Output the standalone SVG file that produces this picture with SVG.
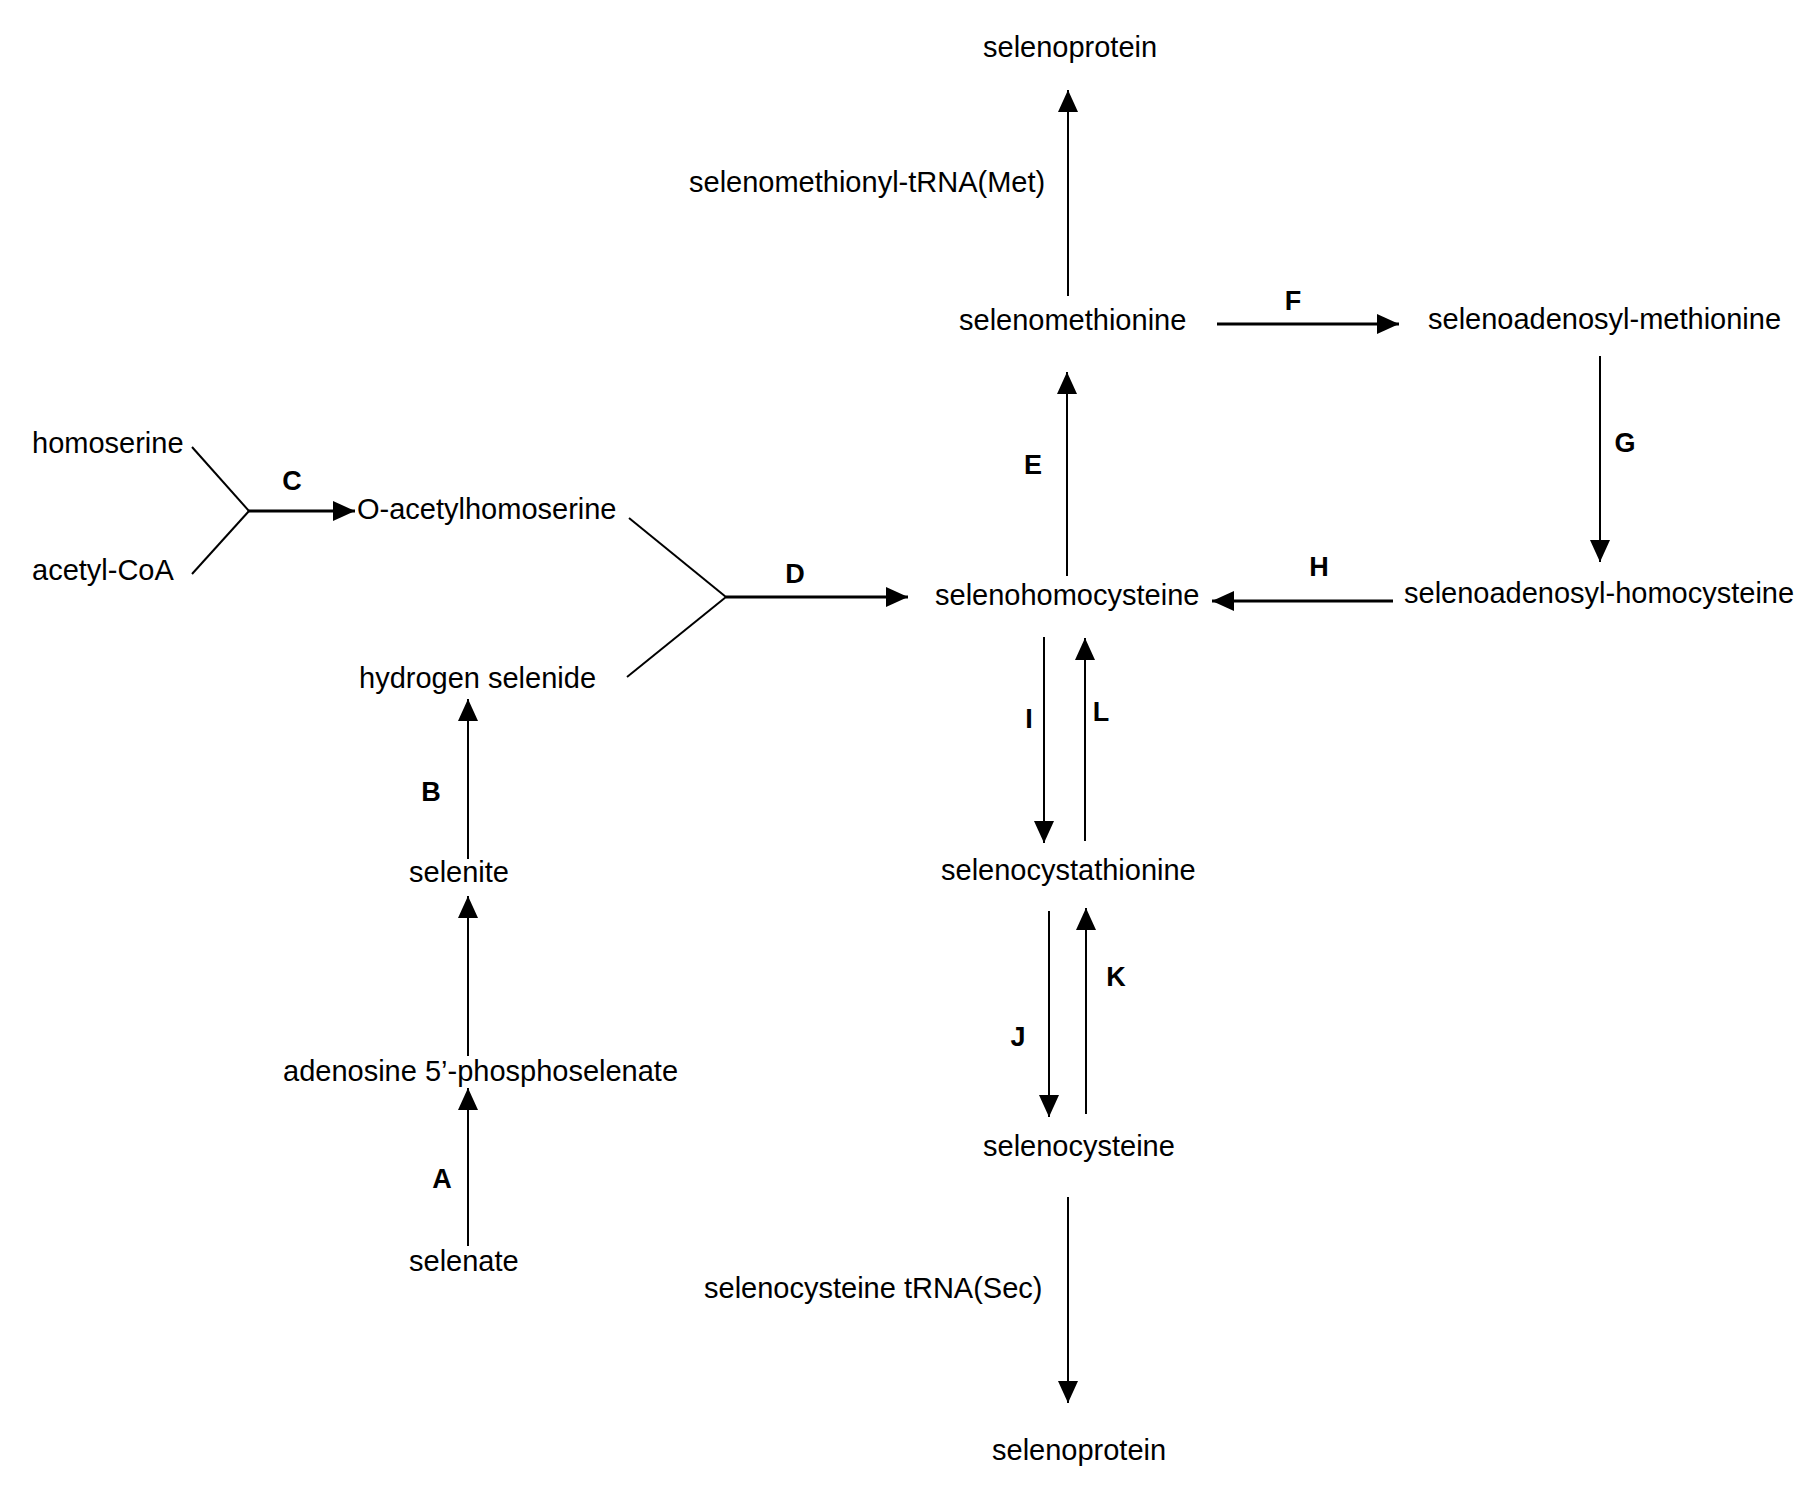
<svg xmlns="http://www.w3.org/2000/svg" width="1807" height="1493" viewBox="0 0 1807 1493">
<style>
text{font-family:"Liberation Sans",Arial,Helvetica,sans-serif;fill:#000}
.n{font-size:29px}
.l{font-size:27px;font-weight:bold;text-anchor:middle}
line{stroke:#000;stroke-width:2;fill:none}
.h{stroke-width:3}
.a{marker-end:url(#ah)}
</style>
<defs>
<marker id="ah" markerUnits="userSpaceOnUse" markerWidth="22" markerHeight="20" refX="22" refY="10" orient="auto" viewBox="0 0 22 20">
<path d="M0,0 L22,10 L0,20 z" fill="#000"/>
</marker>
</defs>
<rect width="1807" height="1493" fill="#fff"/>
<g id="connectors">
<line class="a" x1="1068" y1="296" x2="1068" y2="90"/>
<line class="a h" x1="1217" y1="324" x2="1399" y2="324"/>
<line class="a" x1="1600" y1="356" x2="1600" y2="562"/>
<line class="a" x1="1067" y1="576" x2="1067" y2="372"/>
<line class="a h" x1="1393" y1="601" x2="1212" y2="601"/>
<line x1="629" y1="518" x2="726" y2="597"/>
<line x1="627" y1="677" x2="726" y2="597"/>
<line class="a h" x1="726" y1="597" x2="908" y2="597"/>
<line x1="192" y1="447" x2="249" y2="511"/>
<line x1="192" y1="574" x2="249" y2="511"/>
<line class="a h" x1="249" y1="511" x2="355" y2="511"/>
<line class="a" x1="468" y1="859" x2="468" y2="699"/>
<line class="a" x1="468" y1="1056" x2="468" y2="896"/>
<line class="a" x1="468" y1="1246" x2="468" y2="1088"/>
<line class="a" x1="1044" y1="637" x2="1044" y2="843"/>
<line class="a" x1="1085" y1="841" x2="1085" y2="638"/>
<line class="a" x1="1049" y1="911" x2="1049" y2="1117"/>
<line class="a" x1="1086" y1="1114" x2="1086" y2="908"/>
<line class="a" x1="1068" y1="1197" x2="1068" y2="1403"/>
<text class="l" x="292" y="490">C</text>
<text class="l" x="795" y="583">D</text>
<text class="l" x="1033" y="474">E</text>
<text class="l" x="1293" y="310">F</text>
<text class="l" x="1625" y="452">G</text>
<text class="l" x="1319" y="576">H</text>
<text class="l" x="1029" y="728">I</text>
<text class="l" x="1101" y="721">L</text>
<text class="l" x="1116" y="986">K</text>
<text class="l" x="1018" y="1046">J</text>
<text class="l" x="431" y="801">B</text>
<text class="l" x="442" y="1188">A</text>
</g>
<g id="selenoprotein-top"><text class="n" x="983" y="57">selenoprotein</text></g>
<g id="selenomethionyl-trna"><text class="n" x="689" y="192">selenomethionyl-tRNA(Met)</text></g>
<g id="selenomethionine"><text class="n" x="959" y="330">selenomethionine</text></g>
<g id="selenoadenosyl-methionine"><text class="n" x="1428" y="329">selenoadenosyl-methionine</text></g>
<g id="homoserine"><text class="n" x="32" y="453">homoserine</text></g>
<g id="acetyl-coa"><text class="n" x="32" y="580">acetyl-CoA</text></g>
<g id="o-acetylhomoserine"><text class="n" x="357" y="519">O-acetylhomoserine</text></g>
<g id="hydrogen-selenide"><text class="n" x="359" y="688">hydrogen selenide</text></g>
<g id="selenohomocysteine"><text class="n" x="935" y="605">selenohomocysteine</text></g>
<g id="selenoadenosyl-homocysteine"><text class="n" x="1404" y="603">selenoadenosyl-homocysteine</text></g>
<g id="selenocystathionine"><text class="n" x="941" y="880">selenocystathionine</text></g>
<g id="selenite"><text class="n" x="409" y="882">selenite</text></g>
<g id="adenosine-phosphoselenate"><text class="n" x="283" y="1081">adenosine 5’-phosphoselenate</text></g>
<g id="selenate"><text class="n" x="409" y="1271">selenate</text></g>
<g id="selenocysteine"><text class="n" x="983" y="1156">selenocysteine</text></g>
<g id="selenocysteine-trna"><text class="n" x="704" y="1298">selenocysteine tRNA(Sec)</text></g>
<g id="selenoprotein-bottom"><text class="n" x="992" y="1460">selenoprotein</text></g>
</svg>
